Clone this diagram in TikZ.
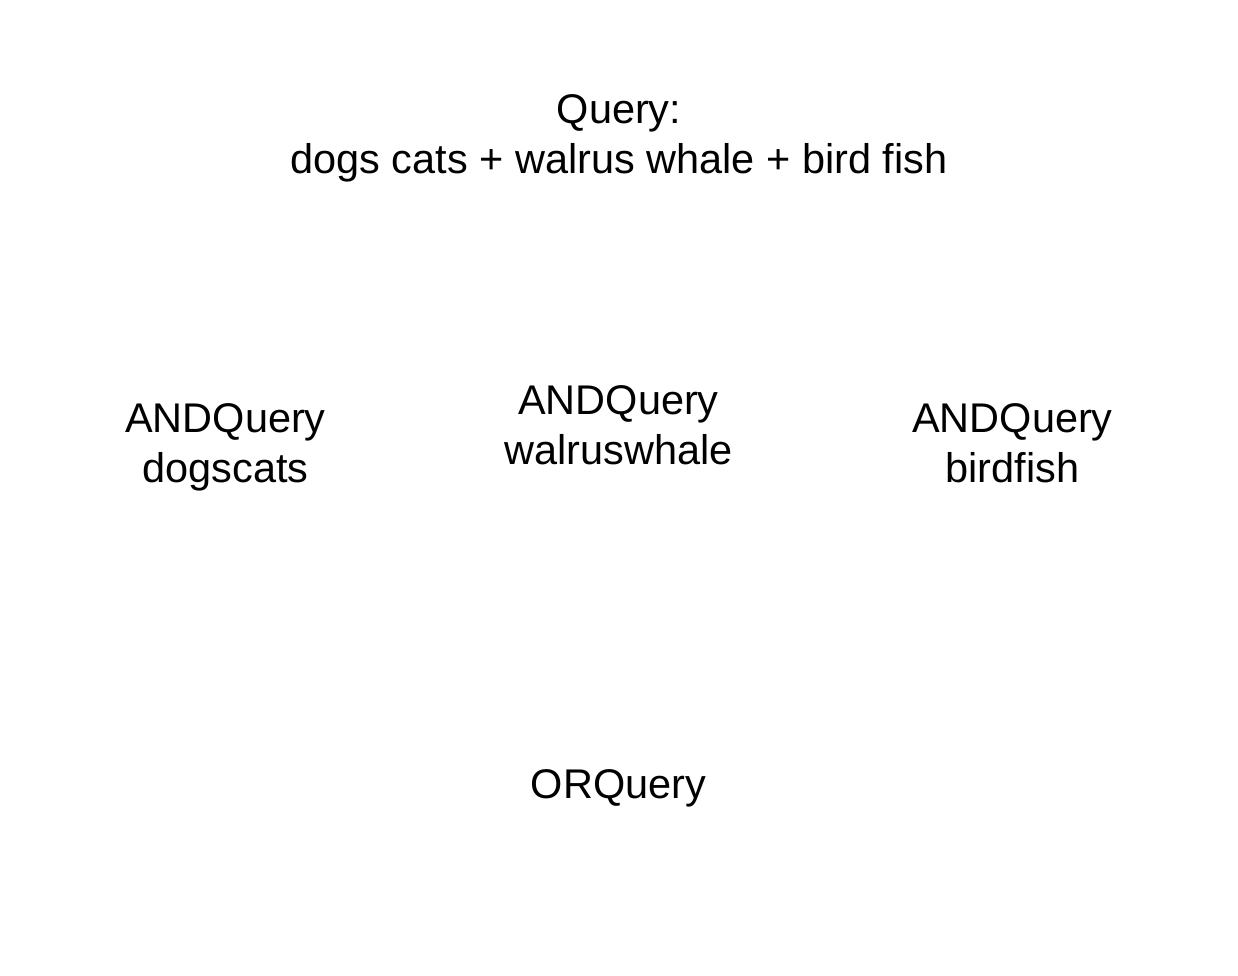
\documentclass[tikz,border=0pt]{standalone}
\usepackage{fontspec}
\setmainfont{Liberation Sans}
\usetikzlibrary{positioning}

\begin{document}
\begin{tikzpicture}[
    every node/.style = {align = center, inner sep = 0pt,
                         font = \fontsize{11.8}{14.2}\selectfont}]

        % Page frame, same proportions as the reference.
        \useasboundingbox (0.0, 0.0) rectangle (12.38, -9.75);

        % The query that is parsed.
        \node (query) at (6.19, -1.38) {Query:\\dogs cats + walrus whale + bird fish};

        % The three AND queries.
        \node (anddogs) at (2.255, -4.47) {ANDQuery\\dogscats};
        \node (andwalrus) at (6.185, -4.25) {ANDQuery\\walruswhale};
        \node (andbird) at (10.125, -4.43) {ANDQuery\\birdfish};

        % The OR query at the bottom.
        \node (orquery) at (6.185, -7.88) {ORQuery};
    \end{tikzpicture}
\end{document}
